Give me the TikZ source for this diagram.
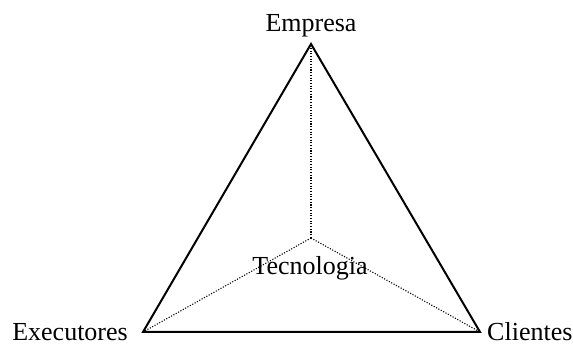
\documentclass[tikz,border=0pt]{standalone}
\usepackage{fontspec}
\setmainfont{Liberation Serif}
\begin{document}
\begin{tikzpicture}[x=1pt,y=1pt,
  lbl/.style={inner sep=0pt,font=\fontsize{26}{31}\selectfont},
  edge/.style={line width=2pt,line join=miter},
  hidden/.style={line width=1.1pt,dash pattern=on 1.1pt off 1.6pt}]
\useasboundingbox (0,0) rectangle (573,347);
\coordinate (A) at (311,303);
\coordinate (B) at (143,15);
\coordinate (C) at (480,15);
\coordinate (O) at (311,109);
\draw[hidden] (O) -- (A);
\draw[hidden] (O) -- (B);
\draw[hidden] (O) -- (C);
\draw[edge] (A) -- (B) -- (C) -- cycle;
\node[lbl,anchor=base] (emp) at (311,315) {Empresa};
\node[lbl,anchor=base] (tec) at (310,72) {Tecnologia};
\node[lbl,anchor=base east] (exe) at (128,6) {Executores};
\node[lbl,anchor=base west] (cli) at (487,6) {Clientes};
\end{tikzpicture}
\end{document}
